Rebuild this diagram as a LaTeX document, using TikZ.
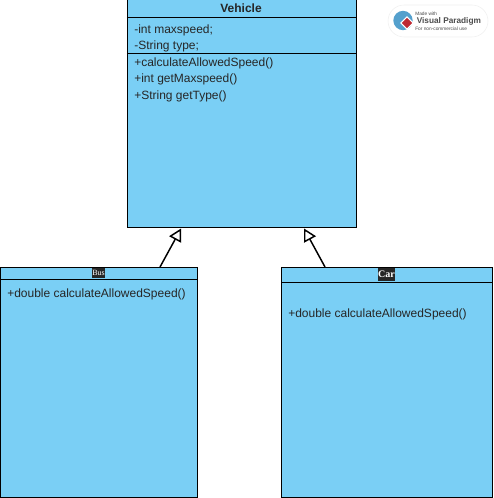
\documentclass[tikz,border=0pt]{standalone}
\usepackage{fontspec}
\setmainfont{Liberation Sans}
\newfontfamily\labelserif{Liberation Serif}
\usetikzlibrary{arrows.meta, shapes.geometric}
\definecolor{classblue}{RGB}{122,207,245}
\definecolor{labeldark}{RGB}{38,38,38}
\definecolor{globeblue}{RGB}{84,160,205}
\definecolor{logored}{RGB}{190,40,50}
\tikzset{
    classbox/.style={rectangle, draw=black, fill=classblue, line width=0.75pt, inner sep=0pt},
    classtitle/.style={font=\fontsize{9}{10}\selectfont\bfseries, text=black!85, inner sep=0pt},
    member/.style={anchor=west, font=\fontsize{9}{10}\selectfont, text=black!85, inner sep=0pt},
    darklabel/.style={fill=labeldark, text=white, inner sep=0pt},
    inherits/.style={-{Triangle[open, fill=white, length=9.4pt, width=10pt]}, line width=1.1pt},
    divider/.style={line width=0.75pt},
    logotext/.style={anchor=west, inner sep=0pt, text=black!70},
}
\begin{document}
\begin{tikzpicture}[x=0.75pt, y=-0.75pt]
    \useasboundingbox (0,0) rectangle (493,498);

    % -- Classes --
    \node[classbox, minimum width=171.4pt, minimum height=171pt] (vehicle) at (241.75,114) {};
    \node[classbox, minimum width=147.75pt, minimum height=172.5pt] (bus) at (99,382.5) {};
    \node[classbox, minimum width=158.25pt, minimum height=172.5pt] (car) at (387,382.5) {};

    % -- Compartments --
    \draw[divider] ([yshift=-13.5pt]vehicle.north west) -- ([yshift=-13.5pt]vehicle.north east);
    \draw[divider] ([yshift=-40.5pt]vehicle.north west) -- ([yshift=-40.5pt]vehicle.north east);
    \draw[divider] ([yshift=-9.4pt]bus.north west) -- ([yshift=-9.4pt]bus.north east);
    \draw[divider] ([yshift=-11.6pt]car.north west) -- ([yshift=-11.6pt]car.north east);

    % -- Vehicle --
    \node[classtitle] (vehicletitle) at (241,8) {Vehicle};
    \node[member] (maxspeed) at (134,30) {-int maxspeed;};
    \node[member] (type) at (134,46) {-String type;};
    \node[member] (allowed) at (134,63) {+calculateAllowedSpeed()};
    \node[member] (getmax) at (134,79) {+int getMaxspeed()};
    \node[member] (gettype) at (134,96) {+String getType()};

    % -- Bus --
    \node[darklabel, minimum width=9.75pt, minimum height=7.5pt, font=\fontsize{6}{6}\selectfont\labelserif] (bustitle) at (98.5,273) {Bus};
    \node[member] (busallowed) at (7,294) {+double calculateAllowedSpeed()};

    % -- Car --
    \node[darklabel, minimum width=12.75pt, minimum height=9.75pt, font=\fontsize{7.5}{8}\selectfont\labelserif\bfseries] (cartitle) at (386.5,274.5) {Car};
    \node[member] (carallowed) at (288,314) {+double calculateAllowedSpeed()};

    % -- Inheritance --
    \draw[inherits] ([xshift=45.75pt]bus.north) -- ([xshift=-45.5pt]vehicle.south);
    \draw[inherits] ([xshift=-46.5pt]car.north) -- ([xshift=46.7pt]vehicle.south);

    % -- Logo --
    \node[rectangle, rounded corners=12pt, fill=white, draw=black!6, minimum width=75pt, minimum height=24pt, inner sep=0pt] (logo) at (438,21) {};
    \node[circle, fill=globeblue, minimum size=14.5pt, inner sep=0pt] (globe) at (403,20.5) {};
    \node[diamond, fill=logored, draw=white, line width=0.7pt, minimum size=9.5pt, inner sep=0pt] (mark) at (407,23) {};
    \node[logotext, font=\fontsize{3.6}{4}\selectfont] (madewith) at (415,14) {Made with};
    \node[logotext, font=\fontsize{6.2}{7}\selectfont\bfseries] (logoname) at (416.5,21) {Visual Paradigm};
    \node[logotext, font=\fontsize{3.6}{4}\selectfont] (noncommercial) at (415,29) {For non-commercial use};

\end{tikzpicture}
\end{document}
